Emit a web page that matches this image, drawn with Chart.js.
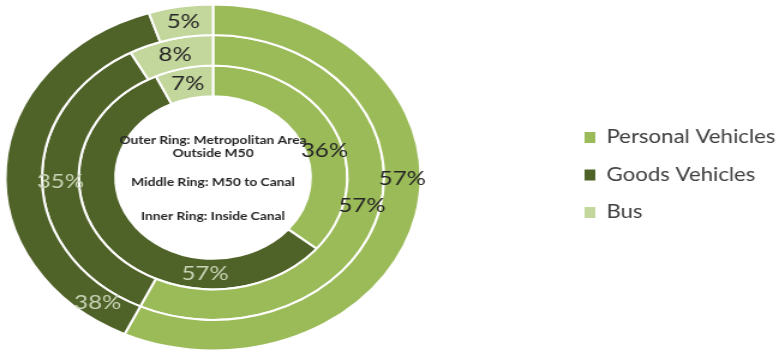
<!DOCTYPE html>
<html>
<head>
<meta charset="utf-8">
<script src="https://cdn.jsdelivr.net/npm/chart.js@4/dist/chart.umd.min.js"></script>
<style>
  html, body { margin: 0; padding: 0; background: #fff; }
  /* the original picture is stretched sideways, so the canvas is too */
  #wrap { width: 649px; height: 354px; transform: scaleX(1.2003); transform-origin: 0 0; }
</style>
</head>
<body>
<div id="wrap"><canvas id="ringChart"></canvas></div>
<script>
// categories and ring values (percent)
const categories = ['Personal Vehicles', 'Goods Vehicles', 'Bus'];
const ringNames = ['Metropolitan Area Outside M50', 'M50 to Canal', 'Inside Canal'];
const outerRing = [57, 38, 5];
const middleRing = [57, 35, 8];
const innerRing = [36, 57, 7];
const centerLines = ['Outer Ring: Metropolitan Area', 'Outside M50', 'Middle Ring: M50 to Canal', 'Inner Ring: Inside Canal'];

const sliceColors = ['#9BBB59', '#4F6228', '#C3D69B'];
const labelColors = ['#262626', '#C9D3B5', '#262626'];

// fixes the ring area on the left and moves the legend to the right side
const placeBoxes = {
  id: 'placeBoxes',
  afterLayout(chart, args, opts) {
    const a = chart.chartArea;
    a.left = 0; a.right = 355; a.top = 0; a.bottom = 355;
    a.width = 355; a.height = 355;
    const lg = chart.legend;
    lg.left = opts.legendLeft;
    lg.right = chart.width;
    lg.width = lg.right - lg.left;
    lg.top = 0;
    lg.bottom = 350;
    lg.height = 350;
  }
};

// percentage labels inside the rings
const ringLabels = {
  id: 'ringLabels',
  afterDatasetsDraw(chart, args, opts) {
    const ctx = chart.ctx;
    ctx.save();
    ctx.font = opts.font;
    ctx.textAlign = 'center';
    ctx.textBaseline = 'middle';
    chart.data.datasets.forEach((ds, di) => {
      const meta = chart.getDatasetMeta(di);
      meta.data.forEach((arc, i) => {
        const p = arc.getProps(['x', 'y', 'startAngle', 'endAngle', 'innerRadius', 'outerRadius'], true);
        const ang = p.startAngle + (p.endAngle - p.startAngle) * opts.along[di][i];
        const r = (p.innerRadius + p.outerRadius) / 2;
        ctx.fillStyle = labelColors[i];
        ctx.fillText(ds.data[i] + '%', p.x + Math.cos(ang) * r, p.y + Math.sin(ang) * r);
      });
    });
    ctx.restore();
  }
};

// the ring description in the hole
const centerText = {
  id: 'centerText',
  afterDraw(chart, args, opts) {
    const arc = chart.getDatasetMeta(0).data[0];
    const ctx = chart.ctx;
    ctx.save();
    ctx.font = opts.font;
    ctx.fillStyle = '#262626';
    ctx.textAlign = 'center';
    ctx.textBaseline = 'middle';
    centerLines.forEach((t, i) => ctx.fillText(t, arc.x, arc.y + opts.offsets[i]));
    ctx.restore();
  }
};

new Chart(document.getElementById('ringChart'), {
  type: 'doughnut',
  data: {
    labels: categories,
    datasets: [
      { label: ringNames[0], data: outerRing, backgroundColor: sliceColors, borderColor: '#fff', borderWidth: 2 },
      { label: ringNames[1], data: middleRing, backgroundColor: sliceColors, borderColor: '#fff', borderWidth: 2 },
      { label: ringNames[2], data: innerRing, backgroundColor: sliceColors, borderColor: '#fff', borderWidth: 2 }
    ]
  },
  options: {
    responsive: true,
    maintainAspectRatio: false,
    animation: false,
    radius: 173,
    cutout: 83,
    plugins: {
      tooltip: { enabled: false },
      legend: {
        position: 'right',
        labels: {
          boxWidth: 9,
          boxHeight: 11,
          padding: 19,
          color: '#404040',
          font: { family: 'Lato', size: 18.5 },
          generateLabels: chart =>
            Chart.overrides.doughnut.plugins.legend.labels.generateLabels(chart)
              .map(l => Object.assign(l, { lineWidth: 0 }))
        }
      },
      placeBoxes: { legendLeft: 468 },
      ringLabels: {
        font: '20px Lato',
        along: [[0.44, 0.09, 0.5], [0.5, 0.5, 0.5], [0.57, 0.265, 0.5]]
      },
      centerText: {
        font: 'bold 11.5px Lato',
        offsets: [-37.5, -24, 5, 39]
      }
    }
  },
  plugins: [placeBoxes, ringLabels, centerText]
});
</script>
</body>
</html>
